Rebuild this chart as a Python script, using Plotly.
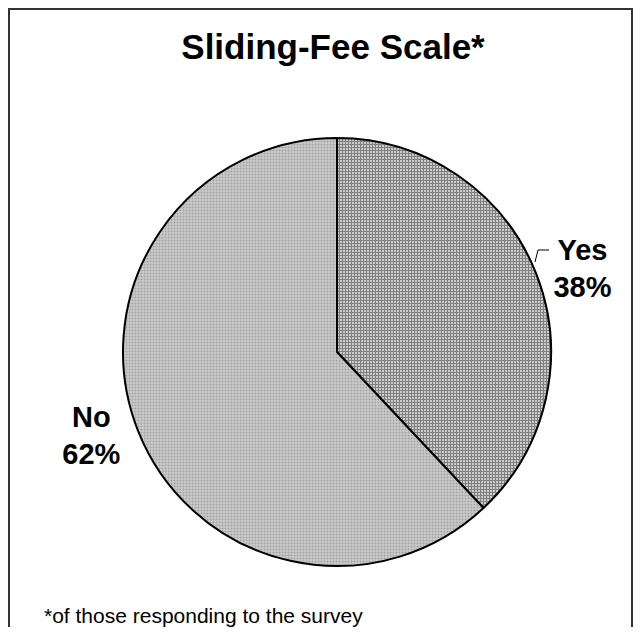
import plotly.graph_objects as go

categories = ["Yes", "No"]
values = [38, 62]
title_text = "<b>Sliding-Fee Scale*</b>"
footnote = "*of those responding to the survey"

# figure sized so that, with the page's 8px body margin, it fits the 642x635 window
W, H = 626, 619
OFF = 8  # page body margin offset
FONT = "Liberation Sans, Arial, sans-serif"


def px_x(v):
    return (v - OFF) / W


def px_y(v):
    return 1 - (v - OFF) / H


fig = go.Figure()
fig.add_trace(go.Pie(
    labels=categories,
    values=values,
    sort=False,
    direction="clockwise",
    rotation=0,
    automargin=False,
    textposition="outside",
    texttemplate="<b>%{label}<br>%{percent}</b>",
    textfont=dict(family=FONT, size=29, color="black"),
    marker=dict(
        colors=["white", "#c8c8c8"],
        line=dict(color="black", width=2),
        pattern=dict(
            shape=["+", "."],
            fgcolor=["black", "#7c7c7c"],
            bgcolor=["white", "#cbcbcb"],
            size=[3, 3],
            solidity=[0.72, 0.4],
            fillmode="overlay",
        ),
    ),
    showlegend=False,
    hoverinfo="label+percent",
    domain=dict(x=[px_x(123), px_x(551)], y=[px_y(566), px_y(138)]),
))

fig.update_layout(
    width=W, height=H,
    margin=dict(l=0, r=0, t=0, b=0, autoexpand=False),
    paper_bgcolor="white",
    plot_bgcolor="white",
    font=dict(family=FONT, color="black"),
    title=dict(text=title_text, x=px_x(333), xanchor="center",
               y=px_y(47), yanchor="middle", automargin=False,
               font=dict(family=FONT, size=35, color="black")),
    annotations=[dict(text=footnote, xref="paper", yref="paper",
                      x=px_x(42), y=px_y(615), xanchor="left", yanchor="middle",
                      showarrow=False,
                      font=dict(family=FONT, size=21, color="black"))],
    shapes=[
        dict(type="rect", xref="paper", yref="paper",
             x0=px_x(9), x1=px_x(632), y0=-0.05, y1=px_y(9),
             line=dict(color="#333333", width=2), fillcolor="rgba(0,0,0,0)",
             layer="above"),
        dict(type="path", xref="paper", yref="paper",
             path=f"M {px_x(535)} {px_y(262)} L {px_x(538)} {px_y(250)} L {px_x(549)} {px_y(250)}",
             line=dict(color="black", width=1)),
    ],
)

fig.write_html("out.html")
